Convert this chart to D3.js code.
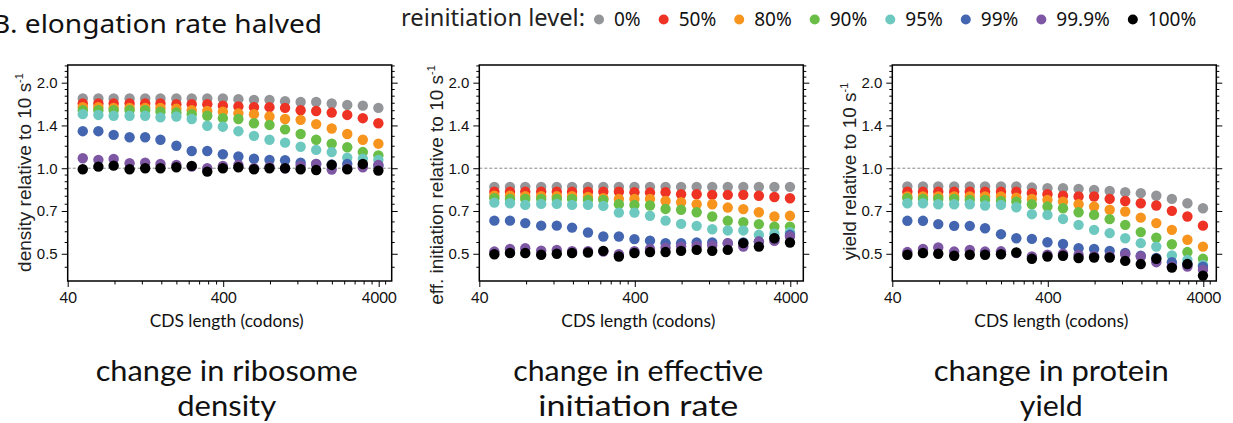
<!DOCTYPE html>
<html>
<head>
<meta charset="utf-8">
<script src="https://cdn.jsdelivr.net/npm/d3@7"></script>
<style>
  body { margin: 0; background: #ffffff; }
  svg { display: block; }
</style>
</head>
<body>
<svg id="chart" width="1233" height="423"></svg>
<script>
// CDS lengths (codons) shared by all three panels
let lengths = [50, 63, 79, 100, 126, 158, 200, 251, 316, 398, 501, 631, 794, 1000, 1259, 1585, 1995, 2512, 3162, 3981];

let levels      = ["0%", "50%", "80%", "90%", "95%", "99%", "99.9%", "100%"];
let levelColors = ["#939598", "#ee3224", "#f7941e", "#6abd45", "#6dc9c0", "#4466b0", "#7e57a4", "#000000"];

// panel 1: ribosome density, one row per reinitiation level
let densityVals = [
    [1.76, 1.76, 1.76, 1.76, 1.76, 1.76, 1.76, 1.76, 1.76, 1.76, 1.75, 1.74, 1.74, 1.72, 1.71, 1.71, 1.69, 1.67, 1.66, 1.63],
    [1.69, 1.69, 1.69, 1.69, 1.69, 1.69, 1.68, 1.68, 1.68, 1.66, 1.65, 1.64, 1.64, 1.63, 1.60, 1.59, 1.57, 1.54, 1.50, 1.44],
    [1.64, 1.64, 1.63, 1.63, 1.63, 1.63, 1.62, 1.60, 1.59, 1.58, 1.56, 1.55, 1.52, 1.49, 1.48, 1.43, 1.38, 1.32, 1.26, 1.22],
    [1.60, 1.60, 1.60, 1.60, 1.60, 1.58, 1.57, 1.55, 1.53, 1.50, 1.49, 1.44, 1.42, 1.37, 1.32, 1.26, 1.22, 1.185, 1.14, 1.11],
    [1.55, 1.54, 1.53, 1.53, 1.53, 1.51, 1.52, 1.49, 1.41, 1.40, 1.35, 1.30, 1.26, 1.23, 1.19, 1.16, 1.14, 1.09, 1.08, 1.07],
    [1.35, 1.35, 1.31, 1.285, 1.285, 1.26, 1.20, 1.15, 1.15, 1.12, 1.10, 1.08, 1.07, 1.067, 1.046, 1.035, 1.03, 1.035, 1.027, 1.02],
    [1.084, 1.07, 1.078, 1.041, 1.046, 1.035, 1.027, 1.013, 1.0, 1.019, 1.027, 1.0, 1.01, 1.0, 1.02, 1.035, 0.99, 1.0, 1.008, 1.027],
    [0.992, 1.013, 1.021, 0.992, 1.0, 1.0, 1.008, 1.019, 0.973, 1.0, 1.008, 0.992, 1.0, 1.0, 0.992, 0.986, 1.027, 0.992, 1.035, 0.981]
];

// panel 2: effective initiation rate
let initVals = [
    [0.86, 0.86, 0.86, 0.86, 0.86, 0.86, 0.86, 0.86, 0.86, 0.86, 0.86, 0.86, 0.86, 0.86, 0.86, 0.86, 0.86, 0.86, 0.86, 0.86],
    [0.827, 0.827, 0.827, 0.827, 0.827, 0.827, 0.827, 0.827, 0.827, 0.823, 0.821, 0.823, 0.81, 0.81, 0.806, 0.806, 0.806, 0.80, 0.792, 0.784],
    [0.80, 0.80, 0.797, 0.797, 0.797, 0.797, 0.792, 0.784, 0.78, 0.78, 0.78, 0.767, 0.759, 0.747, 0.747, 0.727, 0.718, 0.70, 0.676, 0.68],
    [0.784, 0.78, 0.78, 0.78, 0.78, 0.78, 0.774, 0.774, 0.747, 0.743, 0.739, 0.719, 0.714, 0.70, 0.676, 0.653, 0.646, 0.636, 0.623, 0.623],
    [0.757, 0.753, 0.743, 0.749, 0.749, 0.743, 0.743, 0.737, 0.698, 0.698, 0.68, 0.654, 0.637, 0.627, 0.61, 0.604, 0.604, 0.583, 0.588, 0.595],
    [0.654, 0.654, 0.641, 0.628, 0.628, 0.618, 0.594, 0.575, 0.575, 0.563, 0.556, 0.545, 0.545, 0.548, 0.548, 0.545, 0.548, 0.552, 0.567, 0.583],
    [0.509, 0.52, 0.523, 0.513, 0.516, 0.511, 0.511, 0.509, 0.498, 0.511, 0.52, 0.525, 0.53, 0.533, 0.535, 0.545, 0.53, 0.552, 0.555, 0.575],
    [0.498, 0.503, 0.503, 0.496, 0.50, 0.503, 0.505, 0.512, 0.489, 0.503, 0.507, 0.507, 0.512, 0.516, 0.512, 0.516, 0.545, 0.53, 0.567, 0.548]
];

// panel 3: protein yield
let yieldVals = [
    [0.862, 0.862, 0.862, 0.862, 0.862, 0.862, 0.862, 0.862, 0.855, 0.85, 0.85, 0.846, 0.839, 0.832, 0.823, 0.817, 0.80, 0.78, 0.753, 0.723],
    [0.827, 0.827, 0.827, 0.827, 0.827, 0.827, 0.827, 0.827, 0.817, 0.81, 0.80, 0.795, 0.795, 0.78, 0.767, 0.753, 0.739, 0.708, 0.676, 0.628],
    [0.795, 0.795, 0.795, 0.795, 0.795, 0.795, 0.795, 0.788, 0.78, 0.774, 0.763, 0.747, 0.733, 0.714, 0.704, 0.67, 0.641, 0.607, 0.56, 0.53],
    [0.784, 0.78, 0.78, 0.78, 0.774, 0.774, 0.767, 0.763, 0.747, 0.733, 0.723, 0.70, 0.685, 0.662, 0.632, 0.596, 0.57, 0.54, 0.507, 0.48],
    [0.753, 0.753, 0.747, 0.747, 0.747, 0.739, 0.743, 0.729, 0.689, 0.685, 0.663, 0.632, 0.607, 0.591, 0.567, 0.545, 0.53, 0.493, 0.476, 0.457],
    [0.653, 0.653, 0.636, 0.627, 0.627, 0.615, 0.586, 0.567, 0.564, 0.549, 0.541, 0.523, 0.52, 0.512, 0.503, 0.492, 0.483, 0.467, 0.46, 0.45],
    [0.507, 0.52, 0.526, 0.509, 0.516, 0.509, 0.51, 0.503, 0.489, 0.496, 0.50, 0.495, 0.49, 0.49, 0.498, 0.489, 0.467, 0.451, 0.451, 0.439],
    [0.496, 0.503, 0.50, 0.492, 0.496, 0.496, 0.498, 0.505, 0.48, 0.489, 0.492, 0.483, 0.485, 0.485, 0.472, 0.46, 0.48, 0.447, 0.46, 0.419]
];

let yTickVals   = [0.5, Math.SQRT1_2, 1, Math.SQRT2, 2];   // labelled 0.5 0.7 1.0 1.4 2.0
let xTickVals   = [40, 400, 4000];
let yLabels     = ["density relative to 10 s", "eff. initiation relative to 10 s", "yield relative to 10 s"];
let panelTitles = [["change in ribosome", "density"], ["change in effective", "initiation rate"], ["change in protein", "yield"]];
let xTitle      = "CDS length (codons)";

let svg = d3.select("#chart");

let panelLeft  = [67.7, 479.3, 892.3];
let panelW     = 324;
let plotTop    = 65;
let plotBottom = 281;
let yLabelMid  = [172.5, 185, 171.5];
let titleWidth = [[262, 99], [250, 200], [235, 63]];

let sansMyriad = "'Noto Sans', 'Open Sans', sans-serif";
let sansLato   = "Lato, 'Noto Sans', sans-serif";
let sansHelv   = "'Liberation Sans', Arial, sans-serif";

// minor ticks
let yMinor = d3.range(0.45, 0.999, 0.05).concat(d3.range(1.1, 2.35, 0.1))
                .filter(v => Math.abs(v - 0.5) > 0.01 && Math.abs(v - 0.7) > 0.01 && Math.abs(v - 1.4) > 0.01 && Math.abs(v - 2) > 0.01);
let xMinor = d3.range(2, 10).map(k => 40 * k)
                .concat(d3.range(2, 10).map(k => 400 * k))
                .concat([4400]);

function styleTicks(g, fam, size){
    g.select(".domain").remove();
    g.selectAll(".tick line").attr("stroke", "#000").attr("stroke-width", 1);
    g.selectAll(".tick text")
        .attr("fill", "#111")
        .style("font-family", fam)
        .style("font-size", size);
}

function drawPanel(i, vals){
    let left = panelLeft[i];
    let x = d3.scaleLog().domain([40, 4850]).range([left, left + panelW]);
    let y = d3.scaleLog().domain([0.401, 2.308]).range([plotBottom, plotTop]);

    let pg = svg.append("g").attr("class", "panel" + i);

    // dashed reference at 1.0
    pg.append("line")
        .attr("x1", left).attr("x2", left + panelW)
        .attr("y1", y(1)).attr("y2", y(1))
        .attr("stroke", "#8a8a8a")
        .attr("stroke-width", 1)
        .attr("stroke-dasharray", "3,2");

    // points, 0% first so 100% sits on top
    levels.forEach((lv, s) => {
        pg.append("g")
            .selectAll("circle")
            .data(vals[s])
            .enter()
                .append("circle")
                    .attr("cx", (d, k) => x(lengths[k]))
                    .attr("cy", d => y(d))
                    .attr("r", 5.2)
                    .attr("fill", levelColors[s]);
    });

    // frame
    pg.append("rect")
        .attr("x", left).attr("y", plotTop)
        .attr("width", panelW).attr("height", plotBottom - plotTop)
        .attr("fill", "none")
        .attr("stroke", "#000")
        .attr("stroke-width", 1.5);

    // left axis
    pg.append("g").attr("transform", "translate(" + left + ",0)")
        .call(d3.axisLeft(y).tickValues(yMinor).tickSize(3).tickFormat(""))
        .call(g => styleTicks(g, sansHelv, "14.5px"));
    pg.append("g").attr("transform", "translate(" + left + ",0)")
        .call(d3.axisLeft(y).tickValues(yTickVals).tickSize(6).tickPadding(4).tickFormat(d3.format(".1f")))
        .call(g => styleTicks(g, sansHelv, "15px"));

    // mirrored right ticks
    pg.append("g").attr("transform", "translate(" + (left + panelW) + ",0)")
        .call(d3.axisRight(y).tickValues(yMinor).tickSize(3).tickFormat(""))
        .call(g => styleTicks(g, sansHelv, "14px"));
    pg.append("g").attr("transform", "translate(" + (left + panelW) + ",0)")
        .call(d3.axisRight(y).tickValues(yTickVals).tickSize(6).tickFormat(""))
        .call(g => styleTicks(g, sansHelv, "14px"));

    // bottom axis
    pg.append("g").attr("transform", "translate(0," + plotBottom + ")")
        .call(d3.axisBottom(x).tickValues(xMinor).tickSize(3.5).tickFormat(""))
        .call(g => styleTicks(g, sansMyriad, "14px"));
    pg.append("g").attr("transform", "translate(0," + plotBottom + ")")
        .call(d3.axisBottom(x).tickValues(xTickVals).tickSize(6).tickPadding(5).tickFormat(d3.format("d")))
        .call(g => styleTicks(g, sansLato, "15px"));

    // x title
    pg.append("text")
        .attr("x", left + panelW / 2 - 3)
        .attr("y", 327)
        .attr("text-anchor", "middle")
        .attr("textLength", 154)
        .attr("lengthAdjust", "spacingAndGlyphs")
        .style("font-family", sansLato)
        .style("font-size", "16.5px")
        .attr("fill", "#111")
        .text(xTitle);

    // y title with s^-1
    let yt = pg.append("text")
        .attr("transform", "translate(" + (left - 36.5) + "," + yLabelMid[i] + ") rotate(-90)")
        .attr("text-anchor", "middle")
        .style("font-family", sansHelv)
        .style("font-size", "19px")
        .attr("fill", "#222");
    yt.append("tspan").text(yLabels[i]);
    yt.append("tspan").attr("dy", -8).style("font-size", "11px").text("-1");

    // panel caption, two lines
    panelTitles[i].forEach((line, k) => {
        pg.append("text")
            .attr("x", left + panelW / 2 - 3)
            .attr("y", 381 + k * 35)
            .attr("text-anchor", "middle")
            .attr("textLength", titleWidth[i][k])
            .attr("lengthAdjust", "spacingAndGlyphs")
            .style("font-family", sansLato)
            .style("font-size", "28px")
            .attr("fill", "#111")
            .text(line);
    });
}

drawPanel(0, densityVals);
drawPanel(1, initVals);
drawPanel(2, yieldVals);

// header (the B is clipped by the left edge in the source figure)
svg.append("text")
    .attr("x", -8).attr("y", 33)
    .attr("textLength", 330)
    .attr("lengthAdjust", "spacingAndGlyphs")
    .style("font-family", sansMyriad)
    .style("font-size", "26px")
    .attr("fill", "#111")
    .text("B. elongation rate halved");

svg.append("text")
    .attr("x", 401).attr("y", 26)
    .attr("textLength", 184)
    .attr("lengthAdjust", "spacingAndGlyphs")
    .style("font-family", sansMyriad)
    .style("font-size", "24px")
    .attr("fill", "#222")
    .text("reinitiation level:");

// legend items laid out from measured label widths
let lx = 599;
levels.forEach((lv, s) => {
    svg.append("circle")
        .attr("cx", lx).attr("cy", 19.5).attr("r", 5)
        .attr("fill", levelColors[s]);
    let t = svg.append("text")
        .attr("x", lx + 15).attr("y", 26)
        .style("font-family", sansMyriad)
        .style("font-size", "19px")
        .attr("fill", "#111")
        .text(lv);
    lx = lx + 15 + t.node().getComputedTextLength() + 23;
});
</script>
</body>
</html>
